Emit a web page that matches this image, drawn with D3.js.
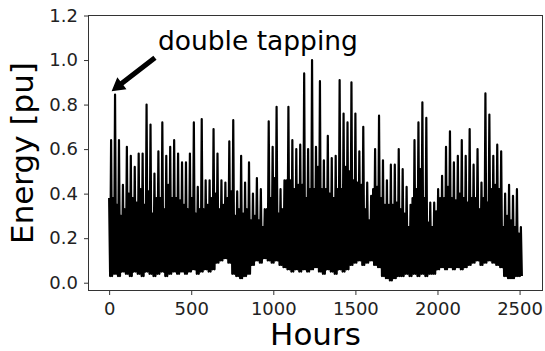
<!DOCTYPE html>
<html>
<head>
<meta charset="utf-8">
<script src="https://cdn.jsdelivr.net/npm/d3@7"></script>
<style>
  body { margin: 0; background: #fff; }
  svg { display: block; font-family: "DejaVu Sans", sans-serif; }
</style>
</head>
<body>
<script>
// daily values (one entry per day, 105 days)
var spikes = [0.64, 0.845, 0.64, 0.44, 0.61, 0.57, 0.52, 0.58, 0.58, 0.80,
  0.71, 0.49, 0.59, 0.72, 0.57, 0.61, 0.64, 0.58, 0.54, 0.54,
  0.58, 0.72, 0.43, 0.735, 0.46, 0.46, 0.69, 0.58, 0.46, 0.45,
  0.635, 0.73, 0.41, 0.57, 0.45, 0.54, 0.40, 0.47, 0.42, 0.33,
  0.725, 0.61, 0.79, 0.42, 0.46, 0.79, 0.64, 0.60, 0.62, 0.94,
  0.60, 1.00, 0.61, 0.905, 0.55, 0.66, 0.56, 0.57, 0.91, 0.76,
  0.72, 0.90, 0.76, 0.59, 0.70, 0.45, 0.39, 0.60, 0.75, 0.55,
  0.46, 0.53, 0.53, 0.60, 0.51, 0.43, 0.35, 0.64, 0.72, 0.81,
  0.74, 0.36, 0.36, 0.42, 0.48, 0.61, 0.68, 0.54, 0.57, 0.64,
  0.57, 0.69, 0.53, 0.60, 0.45, 0.85, 0.755, 0.57, 0.62, 0.59,
  0.40, 0.44, 0.39, 0.42, 0.25];

var shoulders = [0.38, 0.38, 0.35, 0.30, 0.33, 0.40, 0.38, 0.36, 0.42, 0.35,
  0.41, 0.31, 0.38, 0.38, 0.33, 0.44, 0.38, 0.38, 0.37, 0.35,
  0.33, 0.38, 0.31, 0.33, 0.33, 0.35, 0.38, 0.40, 0.33, 0.35,
  0.38, 0.41, 0.30, 0.33, 0.31, 0.33, 0.28, 0.30, 0.28, 0.25,
  0.33, 0.38, 0.47, 0.31, 0.33, 0.46, 0.46, 0.42, 0.44, 0.44,
  0.38, 0.42, 0.42, 0.52, 0.42, 0.42, 0.40, 0.38, 0.42, 0.42,
  0.52, 0.50, 0.46, 0.45, 0.44, 0.33, 0.28, 0.42, 0.43, 0.38,
  0.35, 0.35, 0.35, 0.36, 0.33, 0.31, 0.25, 0.38, 0.42, 0.51,
  0.38, 0.27, 0.25, 0.32, 0.38, 0.38, 0.43, 0.38, 0.37, 0.40,
  0.38, 0.36, 0.38, 0.38, 0.33, 0.38, 0.36, 0.42, 0.44, 0.42,
  0.25, 0.30, 0.28, 0.25, 0.22];

var lows = [0.03, 0.04, 0.03, 0.05, 0.04, 0.03, 0.05, 0.04, 0.03, 0.05,
  0.04, 0.03, 0.04, 0.05, 0.03, 0.04, 0.05, 0.04,
  0.05, 0.04, 0.05, 0.06, 0.04, 0.05, 0.06, 0.05, 0.06,
  0.09, 0.10, 0.11, 0.09,
  0.04, 0.03, 0.02, 0.03, 0.04,
  0.08, 0.10, 0.09, 0.11, 0.10, 0.09, 0.10, 0.08, 0.07,
  0.06, 0.05, 0.06, 0.05, 0.06, 0.05, 0.06,
  0.07, 0.05, 0.04, 0.06, 0.05, 0.04, 0.06, 0.05, 0.06,
  0.08, 0.09, 0.10, 0.08, 0.09, 0.10, 0.08, 0.07,
  0.03, 0.02, 0.01, 0.02, 0.03, 0.03, 0.04, 0.03, 0.04, 0.03, 0.04, 0.03, 0.04, 0.04,
  0.06, 0.07, 0.06, 0.07, 0.06, 0.07, 0.06, 0.07,
  0.08, 0.09, 0.10, 0.08, 0.09, 0.10, 0.09, 0.08, 0.07,
  0.03, 0.02, 0.02, 0.03, 0.03];

var xTicks = [0, 500, 1000, 1500, 2000, 2500];
var yTicks = [0.0, 0.2, 0.4, 0.6, 0.8, 1.0, 1.2];

var noteText = "double tapping";

//hourly series: shoulder, low, spike, low within each day
var series = [];
spikes.forEach(function(s, d){
    series.push({ h: d * 24, v: shoulders[d] });
    series.push({ h: d * 24 + 6, v: lows[d] });
    series.push({ h: d * 24 + 12, v: s });
    series.push({ h: d * 24 + 18, v: lows[d] });
});

//SVG dimension variables
var w = 545, h = 351;
var margin = { left: 88.5, right: 2.5, top: 15.5, bottom: 60.5 };
var pw = w - margin.left - margin.right, ph = h - margin.top - margin.bottom;

var svg = d3.select("body").append("svg")
    .attr("width", w)
    .attr("height", h);

var hMax = d3.max(series, function(d){ return d.h; });
var x = d3.scaleLinear()
    .domain([-0.05 * hMax, 1.05 * hMax])
    .range([margin.left, margin.left + pw]);
var y = d3.scaleLinear()
    .domain([-0.035, 1.2])
    .range([margin.top + ph, margin.top]);

//the line
var line = d3.line()
    .x(function(d){ return x(d.h); })
    .y(function(d){ return y(d.v); });

svg.append("path")
    .datum(series)
    .attr("d", line)
    .attr("fill", "none")
    .attr("stroke", "#000")
    .attr("stroke-width", 2.2)
    .attr("stroke-linejoin", "round");

//axes
var xAxis = svg.append("g")
    .attr("transform", "translate(0," + (margin.top + ph) + ")")
    .call(d3.axisBottom(x).tickValues(xTicks).tickFormat(d3.format("d"))
        .tickSize(4.5).tickSizeOuter(0).tickPadding(7));
var yAxis = svg.append("g")
    .attr("transform", "translate(" + margin.left + ",0)")
    .call(d3.axisLeft(y).tickValues(yTicks).tickFormat(d3.format(".1f"))
        .tickSize(4.5).tickSizeOuter(0).tickPadding(6));

[xAxis, yAxis].forEach(function(a){
    a.select(".domain").remove();
    a.selectAll("line").attr("stroke", "#333").attr("stroke-width", 1);
    a.selectAll("text").attr("fill", "#222").style("font-size", "18px")
        .style("font-family", "DejaVu Sans");
});

//frame
svg.append("rect")
    .attr("x", margin.left)
    .attr("y", margin.top)
    .attr("width", pw)
    .attr("height", ph)
    .attr("fill", "none")
    .attr("stroke", "#333")
    .attr("stroke-width", 1);

//axis titles
svg.append("text")
    .attr("x", margin.left + pw / 2)
    .attr("y", 345)
    .attr("text-anchor", "middle")
    .style("font-size", "31px")
    .text("Hours");

svg.append("text")
    .attr("transform", "translate(33," + (margin.top + ph / 2) + ") rotate(-90)")
    .attr("text-anchor", "middle")
    .style("font-size", "31px")
    .text("Energy [pu]");

//annotation
var tip = [x(15), y(0.86)], tail = [x(279), y(1.01)];
var dx = tip[0] - tail[0], dy = tip[1] - tail[1];
var len = Math.sqrt(dx * dx + dy * dy);
var ux = dx / len, uy = dy / len, nx = -uy, ny = ux;
var headLen = 13, headW = 7.5, shaftW = 2.6;
var bx = tip[0] - ux * headLen, by = tip[1] - uy * headLen;
var pts = [
    [tail[0] + nx * shaftW, tail[1] + ny * shaftW],
    [bx + nx * shaftW, by + ny * shaftW],
    [bx + nx * headW, by + ny * headW],
    tip,
    [bx - nx * headW, by - ny * headW],
    [bx - nx * shaftW, by - ny * shaftW],
    [tail[0] - nx * shaftW, tail[1] - ny * shaftW]
];
svg.append("polygon")
    .attr("points", pts.map(function(p){ return p.join(","); }).join(" "))
    .attr("fill", "#000");

svg.append("text")
    .attr("x", x(297))
    .attr("y", y(1.047))
    .style("font-size", "26.5px")
    .text(noteText);
</script>
</body>
</html>
